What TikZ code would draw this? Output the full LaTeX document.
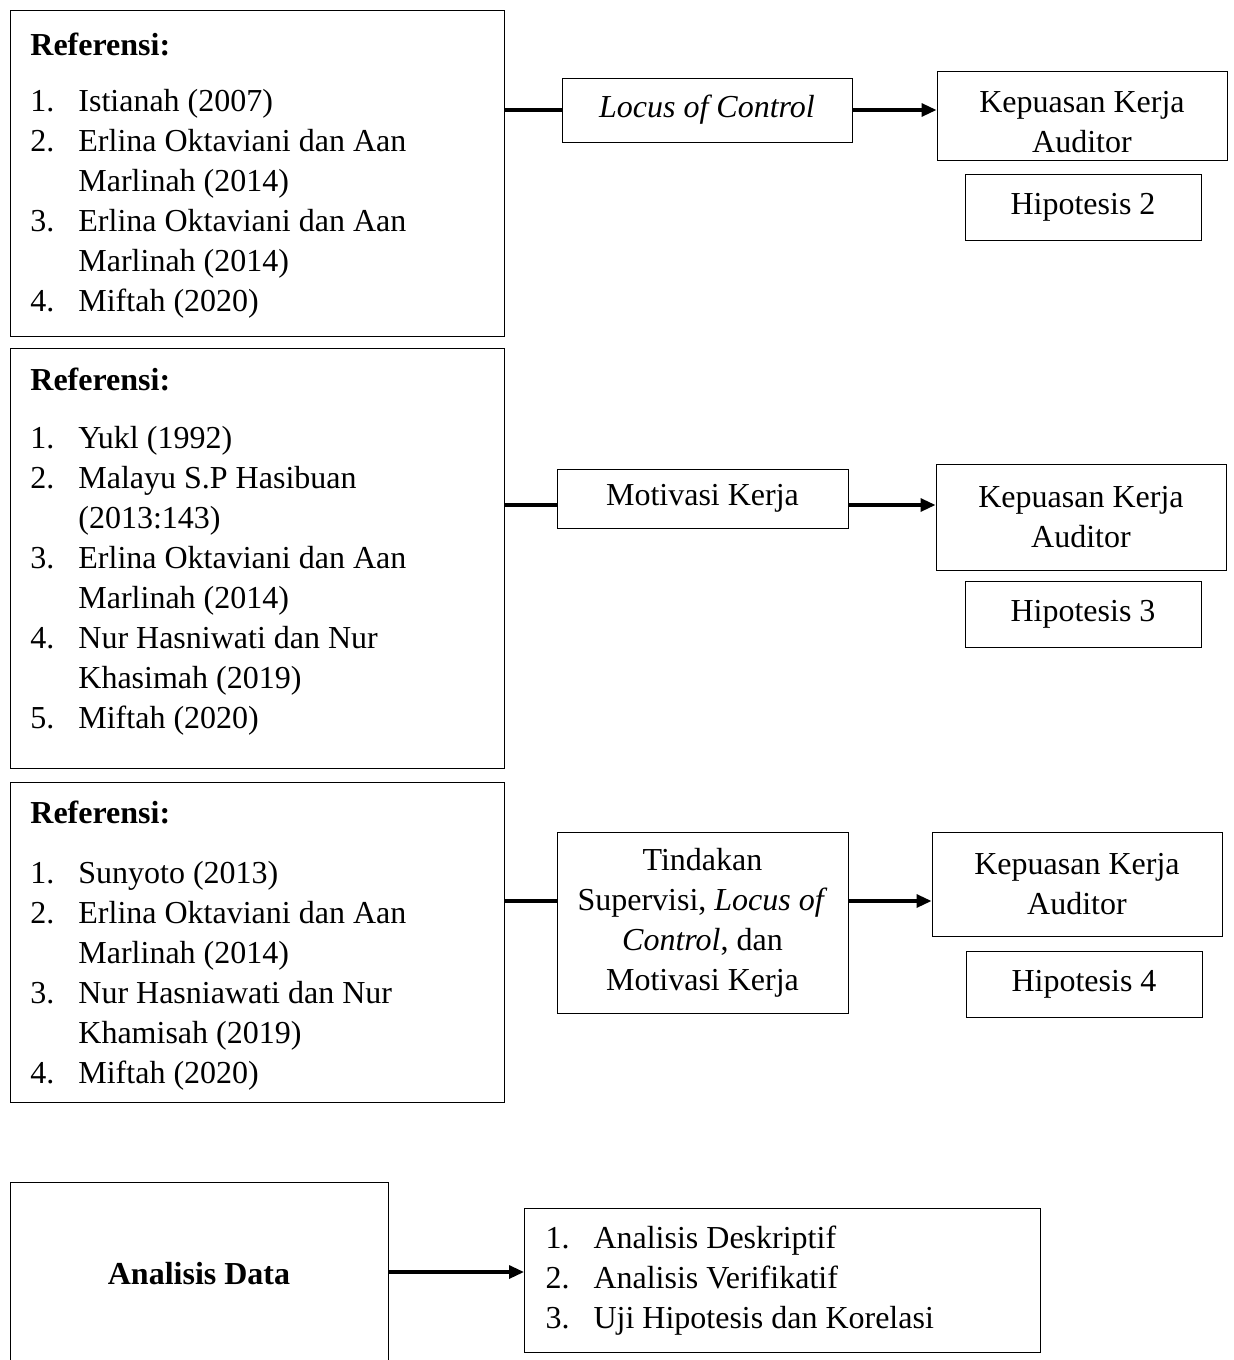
\documentclass[tikz,border=0pt]{standalone}
\usepackage{fontspec}
\setmainfont{Liberation Serif}
\usetikzlibrary{positioning,arrows.meta}

\newcommand{\numitem}[2]{\makebox[24pt][l]{#1}#2}

\begin{document}
\begin{tikzpicture}[x=0.5pt,y=-0.5pt,
    every node/.style={font=\fontsize{16}{20}\selectfont},
    box/.style={draw, line width=0.5pt, inner sep=0pt, align=center},
    reftext/.style={anchor=north west, inner sep=0pt, align=flush left},
    link/.style={line width=1.6pt},
    linkarrow/.style={link, -{Triangle[length=7.5pt,width=6.5pt]}}]
    \useasboundingbox (0,0) rectangle (1234,1360);

    %referensi
    \node[box, anchor=north west, minimum width=247pt, minimum height=163pt] (ref1) at (10,10) {};
    \node[box, anchor=north west, minimum width=247pt, minimum height=210pt] (ref2) at (10,348) {};
    \node[box, anchor=north west, minimum width=247pt, minimum height=160pt] (ref3) at (10,782) {};

    \node[reftext] (list1) at (30,27) {\strut\textbf{Referensi:}\\[8pt]
      \numitem{1.}{Istianah (2007)}\\
      \numitem{2.}{Erlina Oktaviani dan Aan}\\
      \numitem{}{Marlinah (2014)}\\
      \numitem{3.}{Erlina Oktaviani dan Aan}\\
      \numitem{}{Marlinah (2014)}\\
      \numitem{4.}{Miftah (2020)}};
    \node[reftext] (list2) at (30,362) {\strut\textbf{Referensi:}\\[9pt]
      \numitem{1.}{Yukl (1992)}\\
      \numitem{2.}{Malayu S.P Hasibuan}\\
      \numitem{}{(2013:143)}\\
      \numitem{3.}{Erlina Oktaviani dan Aan}\\
      \numitem{}{Marlinah (2014)}\\
      \numitem{4.}{Nur Hasniwati dan Nur}\\
      \numitem{}{Khasimah (2019)}\\
      \numitem{5.}{Miftah (2020)}};
    \node[reftext] (list3) at (30,795) {\strut\textbf{Referensi:}\\[10pt]
      \numitem{1.}{Sunyoto (2013)}\\
      \numitem{2.}{Erlina Oktaviani dan Aan}\\
      \numitem{}{Marlinah (2014)}\\
      \numitem{3.}{Nur Hasniawati dan Nur}\\
      \numitem{}{Khamisah (2019)}\\
      \numitem{4.}{Miftah (2020)}};

    %variabel
    \node[box, minimum width=145pt, minimum height=32pt] (locus) at (707,110) {\textit{Locus of Control}};
    \node[box, minimum width=145.5pt, minimum height=29.5pt] (motiv) at (702.5,498.5) {Motivasi Kerja};
    \node[box, minimum width=145.5pt, minimum height=90.5pt] (tindak) at (702.5,922.5)
      {Tindakan\\Supervisi, \textit{Locus of}\\\textit{Control}, dan\\Motivasi Kerja};

    \node[box, minimum width=145pt, minimum height=44.5pt, text height=36.8pt] (kep1) at (1082,115.5) {Kepuasan Kerja\\Auditor};
    \node[box, minimum width=145pt, minimum height=53pt] (kep2) at (1081,517) {Kepuasan Kerja\\Auditor};
    \node[box, minimum width=145pt, minimum height=52pt] (kep3) at (1077,884) {Kepuasan Kerja\\Auditor};

    \foreach \name/\num/\x/\y in {hip2/2/1083/207, hip3/3/1083/614, hip4/4/1084/984.5} {
      \node[box, minimum width=118pt, minimum height=33pt] (\name) at (\x,\y) {Hipotesis \num};
    }

    %analisis
    \node[box, minimum width=189pt, minimum height=92pt, font=\fontsize{16}{20}\selectfont\bfseries] (data) at (199,1274) {Analisis Data};
    \node[box, anchor=north west, align=flush left, text width=237pt, inner xsep=10.5pt, minimum height=72pt] (uji) at (524,1208)
      {\numitem{1.}{Analisis Deskriptif}\\
       \numitem{2.}{Analisis Verifikatif}\\
       \numitem{3.}{Uji Hipotesis dan Korelasi}};

    \coordinate (row2) at (0,505);
    \coordinate (row3) at (0,901);
    \coordinate (row4) at (0,1272);

    \draw[link] (ref1.east |- locus.west) -- (locus.west);
    \draw[linkarrow] (locus.east) -- (locus.east -| kep1.west);
    \draw[link] (ref2.east |- row2) -- (motiv.west |- row2);
    \draw[linkarrow] (motiv.east |- row2) -- (kep2.west |- row2);
    \draw[link] (ref3.east |- row3) -- (tindak.west |- row3);
    \draw[linkarrow] (tindak.east |- row3) -- (kep3.west |- row3);
    \draw[linkarrow] (data.east |- row4) -- (uji.west |- row4);
  \end{tikzpicture}
\end{document}
